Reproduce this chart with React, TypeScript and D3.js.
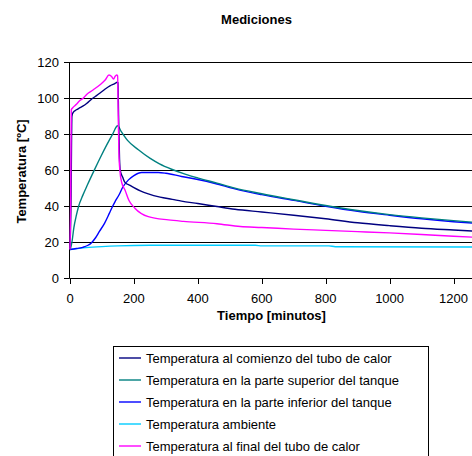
import React from "react";
import * as d3 from "d3";

const title = "Mediciones";
const xLabel = "Tiempo [minutos]";
const yLabel = "Temperatura [ºC]";
const xTicks = [0, 200, 400, 600, 800, 1000, 1200];
const yTicks = [0, 20, 40, 60, 80, 100, 120];

// Temperatura al comienzo del tubo de calor
const tComienzo = [0, 3, 6, 10, 20, 30, 40, 52, 68, 80, 94, 110, 125, 140, 148, 150, 152, 155, 157, 165, 172, 188, 200, 220, 245, 282, 320, 349, 400, 460, 516, 600, 700, 800, 900, 1000, 1100, 1200, 1262];
const vComienzo = [16, 40, 90, 92, 93.5, 94.5, 95.5, 97, 99.5, 101, 102.8, 105, 106.8, 108, 108.8, 108.5, 90, 66, 60, 56, 53.2, 51.5, 50.3, 48.5, 46.8, 45, 43.8, 42.8, 41.5, 39.8, 38.3, 36.8, 35, 33, 30.8, 29.2, 27.8, 26.8, 26.2];

// Temperatura en la parte superior del tanque
const tSuperior = [0, 3, 6, 12, 20, 27, 40, 55, 76, 95, 115, 133.5, 149, 160, 180, 214, 251, 280, 318, 360, 401, 460, 516, 600, 700, 800, 900, 1000, 1100, 1200, 1262];
const vSuperior = [16, 17.5, 20, 28, 35, 40, 46, 52, 60, 67, 74, 80, 84.6, 81.5, 76.5, 71.3, 66.5, 63.5, 60.5, 57.8, 55.6, 52.8, 50, 46.9, 43.6, 40.4, 37.6, 35.3, 33.5, 32, 31.1];

// Temperatura en la parte inferior del tanque
const tInferior = [0, 20, 40, 55, 66, 80, 92, 108, 123, 133.5, 141, 154, 165, 183, 200, 224, 276, 300, 349, 400, 454, 516, 600, 700, 800, 900, 1000, 1100, 1200, 1262];
const vInferior = [16, 16.5, 17.2, 18.2, 19.5, 22.5, 26, 30.5, 36, 40, 42.5, 46.5, 50.5, 54.6, 57, 58.7, 58.7, 58.3, 56.5, 54.8, 52.6, 49.6, 46.4, 43.2, 40, 37.2, 35, 33, 31.4, 30.6];

// Temperatura ambiente
const tAmbiente = [0, 50, 100, 150, 250, 580, 600, 810, 830, 1262];
const vAmbiente = [16, 17, 17.6, 18, 18.3, 18.3, 18, 18, 17.5, 17.4];

// Temperatura al final del tubo de calor
const tFinal = [0, 2, 4, 8, 20, 30, 42, 52, 73, 94, 110, 122, 130, 136, 141, 146, 149, 151, 153, 156, 162, 172, 185, 203, 245, 308, 355, 460, 533, 600, 700, 800, 900, 1000, 1100, 1200, 1262];
const vFinal = [16, 40, 93.5, 94.5, 96.5, 98.5, 100, 102, 104.6, 107.4, 110, 112.8, 112, 110.5, 112, 112.8, 112.3, 90, 70, 60, 53, 49, 43, 38.9, 34.2, 32.4, 31.6, 30.3, 28.7, 28.2, 27.3, 26.6, 25.9, 25.2, 24.3, 23.3, 22.8];

const seriesNames = [
  "Temperatura al comienzo del tubo de calor",
  "Temperatura en la parte superior del tanque",
  "Temperatura en la parte inferior del tanque",
  "Temperatura ambiente",
  "Temperatura al final del tubo de calor",
];
const seriesColors = ["#000080", "#008080", "#0000FF", "#00CCFF", "#FF00FF"];
const seriesT = [tComienzo, tSuperior, tInferior, tAmbiente, tFinal];
const seriesV = [vComienzo, vSuperior, vInferior, vAmbiente, vFinal];
const drawOrder = [3, 2, 1, 0, 4];

export default function App() {
  const W = 472;
  const H = 456;
  const x = d3.scaleLinear().domain([0, 1260]).range([70, 472.7]);
  const y = d3.scaleLinear().domain([0, 120]).range([278.3, 62]);
  const line = d3
    .line<[number, number]>()
    .x((d) => x(d[0]))
    .y((d) => y(d[1]))
    .curve(d3.curveMonotoneX);
  const font = "'Liberation Sans', Arial, sans-serif";
  const legendX = 113.5;
  const legendY = 346.5;

  return (
    <svg
      width={W}
      height={H}
      style={{ position: "absolute", left: 0, top: 0, background: "#fff" }}
      fontFamily={font}
    >
      <rect x={0} y={0} width={W} height={H} fill="#fff" />
      <text x={256.5} y={24} textAnchor="middle" fontSize={13} fontWeight="bold">
        {title}
      </text>
      {yTicks.slice(1).map((t) => (
        <line key={"g" + t} x1={69.5} x2={W} y1={Math.round(y(t)) + 0.5} y2={Math.round(y(t)) + 0.5} stroke="#000" strokeWidth={1} />
      ))}
      <line x1={69.5} x2={69.5} y1={y(120)} y2={y(0)} stroke="#000" />
      {yTicks.map((t) => (
        <g key={"yt" + t}>
          <line x1={64} x2={69.5} y1={Math.round(y(t)) + 0.5} y2={Math.round(y(t)) + 0.5} stroke="#000" />
          <text x={59} y={y(t)} dy="0.35em" textAnchor="end" fontSize={13}>
            {t}
          </text>
        </g>
      ))}
      <line x1={69.5} x2={W} y1={Math.round(y(0)) + 0.5} y2={Math.round(y(0)) + 0.5} stroke="#000" />
      {xTicks.map((t) => (
        <g key={"xt" + t}>
          <line x1={Math.round(x(t)) + 0.5} x2={Math.round(x(t)) + 0.5} y1={278.5} y2={284} stroke="#000" />
          <text x={x(t)} y={303} textAnchor="middle" fontSize={13}>
            {t}
          </text>
        </g>
      ))}
      <text x={271.5} y={320} textAnchor="middle" fontSize={13} fontWeight="bold">
        {xLabel}
      </text>
      <text
        transform={`translate(26,171.5) rotate(-90)`}
        textAnchor="middle"
        fontSize={13}
        fontWeight="bold"
      >
        {yLabel}
      </text>
      {drawOrder.map((i) => (
        <path
          key={"s" + i}
          d={line(seriesT[i].map((t, k) => [t, seriesV[i][k]] as [number, number])) || ""}
          fill="none"
          stroke={seriesColors[i]}
          strokeWidth={1.4}
        />
      ))}
      <rect x={legendX} y={legendY} width={315} height={130} fill="#fff" stroke="#000" strokeWidth={1} />
      {seriesNames.map((n, i) => (
        <g key={"l" + i}>
          <line x1={119} x2={141} y1={358 + i * 22} y2={358 + i * 22} stroke={seriesColors[i]} strokeWidth={1.4} />
          <text x={146} y={358 + i * 22} dy="0.35em" fontSize={13}>
            {n}
          </text>
        </g>
      ))}
    </svg>
  );
}
